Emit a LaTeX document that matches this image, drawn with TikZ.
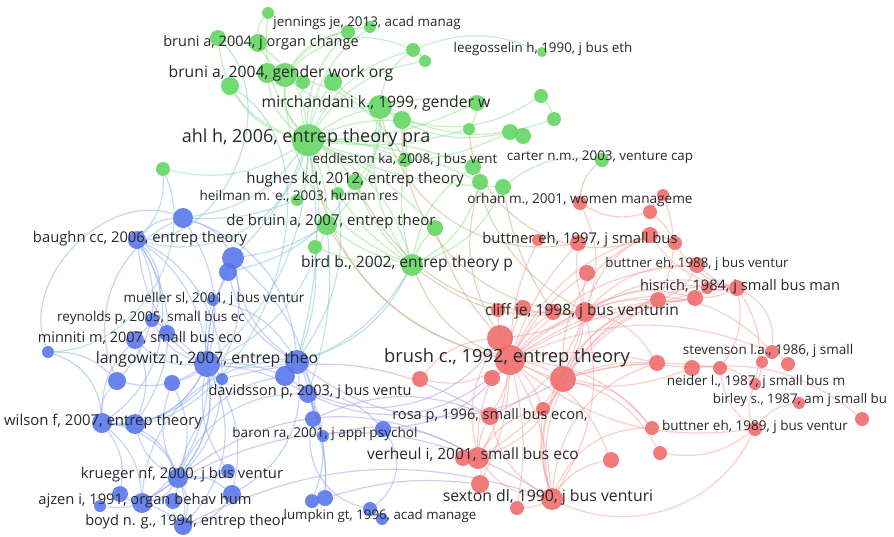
\documentclass[tikz,border=0pt]{standalone}
\usepackage{fontspec}
\setmainfont{Open Sans}
\definecolor{gcol}{RGB}{96,214,96}
\definecolor{bcol}{RGB}{85,115,235}
\definecolor{rcol}{RGB}{240,105,105}
\definecolor{gline}{RGB}{140,225,140}
\definecolor{bline}{RGB}{145,170,242}
\definecolor{rline}{RGB}{245,160,160}
\definecolor{tline}{RGB}{205,180,140}
\definecolor{pline}{RGB}{185,160,225}
\definecolor{cline}{RGB}{130,200,205}
\definecolor{txt}{RGB}{40,40,40}
\pgfdeclarelayer{bg}
\pgfdeclarelayer{edges}
\pgfsetlayers{bg,edges,main}
\begin{document}
\begin{tikzpicture}[x=1pt,y=-1pt,
  gn/.style={circle,fill=gcol,fill opacity=0.88,inner sep=0pt,minimum size=#1},
  bn/.style={circle,fill=bcol,fill opacity=0.88,inner sep=0pt,minimum size=#1},
  rn/.style={circle,fill=rcol,fill opacity=0.88,inner sep=0pt,minimum size=#1},
  ge/.style={draw=gline,line width=1.2pt,draw opacity=0.5},
  be/.style={draw=bline,line width=1.2pt,draw opacity=0.5},
  re/.style={draw=rline,line width=1.2pt,draw opacity=0.5},
  te/.style={draw=tline,line width=1.2pt,draw opacity=0.55},
  pe/.style={draw=pline,line width=1.2pt,draw opacity=0.55},
  ce/.style={draw=cline,line width=1.2pt,draw opacity=0.5},
  lab/.style={font=\fontsize{#1}{#1}\selectfont,text=txt,inner sep=0pt,anchor=mid}]
\begin{pgfonlayer}{bg}
\fill[white] (0,0) rectangle (894,536);
\end{pgfonlayer}
\useasboundingbox (0,0) rectangle (894,536);
% ---------------- green nodes
\node[gn=12] (g1) at (268,13) {};
\node[gn=14] (g2) at (348,32) {};
\node[gn=12] (g3) at (370,27) {};
\node[gn=16] (g4) at (218,38) {};
\node[gn=18] (g5) at (258,43) {};
\node[gn=20] (g6) at (267,73) {};
\node[gn=24] (g7) at (285,75) {};
\node[gn=18] (g8) at (230,86) {};
\node[gn=14] (g9) at (303,82) {};
\node[gn=18] (g10) at (333,82) {};
\node[gn=24] (g11) at (380,107) {};
\node[gn=18] (g12) at (402,120) {};
\node[gn=32] (g13) at (308,140) {};
\node[gn=14] (g14) at (163,169) {};
\node[gn=14] (g15) at (413,50) {};
\node[gn=12] (g16) at (425,61) {};
\node[gn=10] (g17) at (542,52) {};
\node[gn=14] (g18) at (541,96) {};
\node[gn=14] (g19) at (554,119) {};
\node[gn=16] (g20) at (477,103) {};
\node[gn=12] (g21) at (469,129) {};
\node[gn=16] (g22) at (510,132) {};
\node[gn=16] (g23) at (523,136) {};
\node[gn=14] (g24) at (405,160) {};
\node[gn=14] (g25) at (602,160) {};
\node[gn=16] (g26) at (473,167) {};
\node[gn=16] (g27) at (355,182) {};
\node[gn=12] (g28) at (338,193) {};
\node[gn=12] (g29) at (297,200) {};
\node[gn=16] (g30) at (480,182) {};
\node[gn=16] (g31) at (503,187) {};
\node[gn=20] (g32) at (327,225) {};
\node[gn=16] (g33) at (435,228) {};
\node[gn=14] (g34) at (315,247) {};
\node[gn=22] (g35) at (412,265) {};
% ---------------- red nodes
\node[rn=14] (r1) at (580,203) {};
\node[rn=12] (r2) at (663,195) {};
\node[rn=14] (r3) at (650,212) {};
\node[rn=12] (r4) at (538,240) {};
\node[rn=16] (r5) at (578,243) {};
\node[rn=16] (r6) at (650,235) {};
\node[rn=14] (r7) at (675,243) {};
\node[rn=16] (r8) at (697,265) {};
\node[rn=16] (r9) at (737,288) {};
\node[rn=12] (r10) at (707,288) {};
\node[rn=16] (r11) at (695,298) {};
\node[rn=16] (r12) at (658,300) {};
\node[rn=16] (r13) at (587,273) {};
\node[rn=20] (r14) at (585,312) {};
\node[rn=16] (r15) at (523,308) {};
\node[rn=16] (r16) at (553,312) {};
\node[rn=14] (r17) at (498,310) {};
\node[rn=26] (r18) at (500,338) {};
\node[rn=30] (r19) at (510,360) {};
\node[rn=26] (r20) at (563,379) {};
\node[rn=16] (r21) at (420,379) {};
\node[rn=16] (r22) at (492,378) {};
\node[rn=14] (r23) at (543,409) {};
\node[rn=18] (r24) at (490,416) {};
\node[rn=16] (r25) at (463,458) {};
\node[rn=22] (r26) at (478,458) {};
\node[rn=18] (r27) at (480,484) {};
\node[rn=22] (r28) at (552,499) {};
\node[rn=14] (r29) at (517,508) {};
\node[rn=14] (r30) at (772,352) {};
\node[rn=16] (r31) at (657,363) {};
\node[rn=16] (r32) at (692,368) {};
\node[rn=14] (r33) at (720,368) {};
\node[rn=12] (r34) at (762,362) {};
\node[rn=14] (r35) at (788,364) {};
\node[rn=12] (r36) at (755,384) {};
\node[rn=12] (r37) at (799,403) {};
\node[rn=14] (r38) at (862,419) {};
\node[rn=14] (r39) at (755,429) {};
\node[rn=14] (r40) at (652,428) {};
\node[rn=14] (r41) at (660,453) {};
\node[rn=16] (r42) at (611,460) {};
% ---------------- blue nodes
\node[bn=20] (b1) at (183,218) {};
\node[bn=18] (b2) at (137,240) {};
\node[bn=22] (b3) at (233,258) {};
\node[bn=18] (b4) at (228,272) {};
\node[bn=12] (b5) at (213,300) {};
\node[bn=14] (b6) at (152,320) {};
\node[bn=16] (b7) at (167,333) {};
\node[bn=18] (b8) at (135,340) {};
\node[bn=12] (b9) at (48,352) {};
\node[bn=26] (b10) at (207,364) {};
\node[bn=18] (b11) at (117,381) {};
\node[bn=16] (b12) at (172,383) {};
\node[bn=12] (b13) at (222,379) {};
\node[bn=20] (b14) at (285,376) {};
\node[bn=24] (b15) at (297,362) {};
\node[bn=18] (b16) at (308,394) {};
\node[bn=16] (b17) at (313,419) {};
\node[bn=16] (b18) at (383,429) {};
\node[bn=12] (b19) at (323,436) {};
\node[bn=20] (b20) at (102,423) {};
\node[bn=20] (b21) at (135,424) {};
\node[bn=20] (b22) at (178,478) {};
\node[bn=14] (b23) at (228,471) {};
\node[bn=20] (b24) at (142,503) {};
\node[bn=16] (b25) at (120,494) {};
\node[bn=16] (b26) at (173,501) {};
\node[bn=12] (b27) at (100,506) {};
\node[bn=18] (b28) at (232,494) {};
\node[bn=18] (b29) at (183,526) {};
\node[bn=14] (b30) at (370,509) {};
\node[bn=12] (b31) at (382,519) {};
\node[bn=14] (b32) at (312,501) {};
\node[bn=16] (b33) at (325,498) {};
% ---------------- edges
\begin{pgfonlayer}{edges}
\foreach \a/\b/\c [evaluate=\c as \d using 2.2*\c] in {g13/g7/10,g13/g6/10,g13/g5/-10,g13/g4/15,g13/g8/10,g13/g9/5,g13/g10/5,g13/g11/5,g13/g12/5,g13/g2/10,g13/g3/10,g13/g1/10,g13/g15/10,g13/g16/10,g13/g14/10,g13/g24/5,g13/g27/5,g13/g28/5,g13/g29/5,g13/g32/5,g13/g33/5,g13/g34/5,g13/g35/10,g13/g26/5,g13/g30/5,g13/g31/-5,g13/g21/-5,g13/g22/-10,g13/g20/-5,
 g35/g32/5,g35/g33/5,g35/g27/5,g35/g24/5,g35/g28/5,g35/g11/10,g35/g7/15,g35/g34/5,g35/g26/10,g35/g30/-10,g35/g31/-10,
 g11/g7/10,g11/g15/10,g11/g20/5,g11/g27/10,g11/g32/10,g11/g10/5,g11/g22/-10,
 g7/g5/5,g7/g6/5,g7/g2/10,g7/g3/10,g7/g15/15,g7/g9/5,
 g5/g4/5,g5/g1/10,g12/g24/5,g15/g16/5,g26/g30/5,g20/g21/5,g18/g19/5,g22/g23/5,g25/g31/-10,g17/g15/-10,g12/g18/-10,g11/g19/-10,g7/g24/10}
  \draw[ge] (\a) to[bend left=\d] (\b);
\foreach \a/\b/\c [evaluate=\c as \d using 2.2*\c] in {g35/r14/-10,g35/r19/-10,g13/r19/-15,g11/r5/-20,g12/r14/-20,g32/r19/-10,g26/r14/-10,g21/r6/-25,g30/r18/-10,g31/r16/-5,g33/r18/-5,g27/r14/-15,g25/r1/-10}
  \draw[te] (\a) to[bend left=\d] (\b);
\foreach \a/\b/\c [evaluate=\c as \d using 2.2*\c] in {g13/b1/10,g13/b3/5,g13/b2/20,g13/b10/10,g13/b15/5,g32/b3/5,g32/b10/10,g29/b1/5,g27/b4/10,g14/b2/10,g14/b9/25,g8/b20/35,g4/b2/30,g34/b15/5,g28/b14/10,g35/b15/10,g35/b10/15,g32/b16/5}
  \draw[ce] (\a) to[bend left=\d] (\b);
\foreach \a/\b/\c [evaluate=\c as \d using 2.2*\c] in {b10/b1/-10,b10/b2/10,b10/b3/5,b10/b4/5,b10/b5/5,b10/b6/10,b10/b7/5,b10/b8/10,b10/b11/10,b10/b12/5,b10/b13/5,b10/b14/5,b10/b15/5,b10/b16/5,b10/b20/15,b10/b21/10,b10/b22/10,b10/b24/15,b10/b28/10,b10/b29/15,
 b2/b1/10,b2/b8/20,b2/b20/20,b2/b21/15,b2/b11/15,b2/b22/25,b2/b24/25,
 b20/b21/10,b20/b24/10,b20/b22/15,b20/b25/10,b20/b29/20,b20/b11/10,b20/b8/10,
 b22/b24/10,b22/b26/5,b22/b28/10,b22/b21/10,b22/b29/10,b22/b14/15,b22/b16/15,b22/b12/10,
 b15/b3/10,b15/b4/10,b15/b14/5,b15/b16/5,b15/b17/10,b15/b28/15,b15/b24/-20,b15/b1/-15,
 b1/b3/10,b1/b9/-30,b1/b11/-20,b3/b4/5,b3/b21/20,b3/b17/10,
 b16/b17/5,b16/b19/5,b16/b18/10,b16/b32/10,b16/b33/5,b17/b33/5,b17/b30/-20,
 b9/b20/15,b9/b11/10,b24/b27/5,b24/b25/5,b24/b26/5,b24/b29/5,b28/b29/10,b23/b22/5,b23/b10/10,b18/b30/20,b6/b7/5,b8/b21/10,b12/b22/10,b5/b15/10}
  \draw[be] (\a) to[bend left=\d] (\b);
\foreach \a/\b/\c [evaluate=\c as \d using 2.2*\c] in {b18/r19/-10,b19/r26/10,b16/r19/-15,b17/r24/10,b22/r26/15,b24/r28/15,b14/r18/-20,b15/r20/-15,b13/r24/10,b33/r27/5,b29/r28/10}
  \draw[pe] (\a) to[bend left=\d] (\b);
\foreach \a/\b/\c [evaluate=\c as \d using 2.2*\c] in {r19/r14/5,r19/r18/5,r19/r20/5,r19/r21/10,r19/r22/5,r19/r23/5,r19/r24/5,r19/r26/5,r19/r27/5,r19/r28/5,r19/r29/5,r19/r13/5,r19/r5/5,r19/r4/5,r19/r6/10,r19/r12/5,r19/r11/5,r19/r9/10,r19/r8/10,r19/r31/5,r19/r30/10,r19/r40/10,r19/r42/10,r19/r16/5,r19/r15/5,r19/r17/5,r19/r32/-10,r19/r39/-10,
 r14/r5/5,r14/r13/5,r14/r6/10,r14/r12/5,r14/r9/10,r14/r8/10,r14/r11/10,r14/r20/5,r14/r28/10,r14/r26/10,r14/r24/10,r14/r18/5,r14/r16/5,r14/r15/5,r14/r30/15,r14/r31/10,
 r28/r20/10,r28/r26/10,r28/r24/10,r28/r42/10,r28/r40/15,r28/r23/5,r28/r29/5,r28/r31/15,r28/r39/-20,r28/r12/20,r28/r9/25,
 r20/r12/10,r20/r9/10,r20/r31/5,r20/r32/5,r20/r33/5,r20/r11/10,r20/r23/5,r20/r41/10,r20/r40/10,r20/r6/15,r20/r26/10,
 r26/r24/5,r26/r25/5,r26/r27/5,r26/r22/5,r26/r18/10,r26/r23/10,
 r9/r8/5,r9/r10/5,r9/r11/5,r9/r7/10,r9/r6/10,r9/r33/10,r9/r36/10,r9/r30/15,
 r3/r2/5,r3/r1/10,r3/r7/5,r6/r7/5,r1/r14/10,r2/r12/10,r8/r12/10,r11/r12/5,
 r39/r37/10,r39/r36/10,r39/r41/10,r39/r33/10,r30/r35/5,r34/r36/5,r32/r36/10,r38/r32/-10,r18/r21/-10}
  \draw[re] (\a) to[bend left=\d] (\b);
\end{pgfonlayer}
% ---------------- labels
\node[lab=13.4] (l3) at (367,24) {jennings je, 2013, acad manag};
\node[lab=14.5] (l5) at (261,44) {bruni a, 2004, j organ change};
\node[lab=13.4] (l17) at (543,50) {leegosselin h, 1990, j bus eth};
\node[lab=15.7] (l7) at (281,75) {bruni a, 2004, gender work org};
\node[lab=15.7] (l11) at (376,105) {mirchandani k., 1999, gender w};
\node[lab=18] (l13) at (306,140) {ahl h, 2006, entrep theory pra};
\node[lab=13.4] (l24) at (405,161) {eddleston ka, 2008, j bus vent};
\node[lab=13.4] (l25) at (600,158) {carter n.m., 2003, venture cap};
\node[lab=15] (l27) at (355,181) {hughes kd, 2012, entrep theory};
\node[lab=13.5] (l29) at (299,198) {heilman m. e., 2003, human res};
\node[lab=13.6] (l1r) at (580,201) {orhan m., 2001, women manageme};
\node[lab=15] (l32) at (331,223) {de bruin a, 2007, entrep theor};
\node[lab=14.8] (l2b) at (140,240) {baughn cc, 2006, entrep theory};
\node[lab=14.8] (l5r) at (580,241) {buttner eh, 1997, j small bus};
\node[lab=15.6] (l35) at (407,265) {bird b., 2002, entrep theory p};
\node[lab=13.3] (l8r) at (697,265) {buttner eh, 1988, j bus ventur};
\node[lab=14.6] (l9r) at (740,288) {hisrich, 1984, j small bus man};
\node[lab=13.5] (l5b) at (214,300) {mueller sl, 2001, j bus ventur};
\node[lab=15.6] (l14r) at (582,313) {cliff je, 1998, j bus venturin};
\node[lab=13.5] (l6b) at (151,319) {reynolds p, 2005, small bus ec};
\node[lab=14.5] (l8b) at (140,340) {minniti m, 2007, small bus eco};
\node[lab=13.5] (l30r) at (768,352) {stevenson l.a., 1986, j small};
\node[lab=18.3] (l19r) at (507,360) {brush c., 1992, entrep theory};
\node[lab=15.8] (l10b) at (207,361) {langowitz n, 2007, entrep theo};
\node[lab=13.5] (l36r) at (756,383) {neider l., 1987, j small bus m};
\node[lab=14.5] (l16b) at (310,393) {davidsson p, 2003, j bus ventu};
\node[lab=13.3] (l37r) at (800,401) {birley s., 1987, am j small bu};
\node[lab=14.6] (l24r) at (490,417) {rosa p, 1996, small bus econ,};
\node[lab=14.9] (l20b) at (103,423) {wilson f, 2007, entrep theory};
\node[lab=13.5] (l39r) at (755,428) {buttner eh, 1989, j bus ventur};
\node[lab=13.6] (l19b) at (325,435) {baron ra, 2001, j appl psychol};
\node[lab=15.5] (l26r) at (473,457) {verheul i, 2001, small bus eco};
\node[lab=14.8] (l22b) at (182,476) {krueger nf, 2000, j bus ventur};
\node[lab=15.8] (l28r) at (548,499) {sexton dl, 1990, j bus venturi};
\node[lab=14.7] (l24b) at (145,502) {ajzen i, 1991, organ behav hum};
\node[lab=13.3] (l30b) at (380,517) {lumpkin gt, 1996, acad manage};
\node[lab=14.6] (l29b) at (186,523) {boyd n. g., 1994, entrep theor};
\end{tikzpicture}
\end{document}
